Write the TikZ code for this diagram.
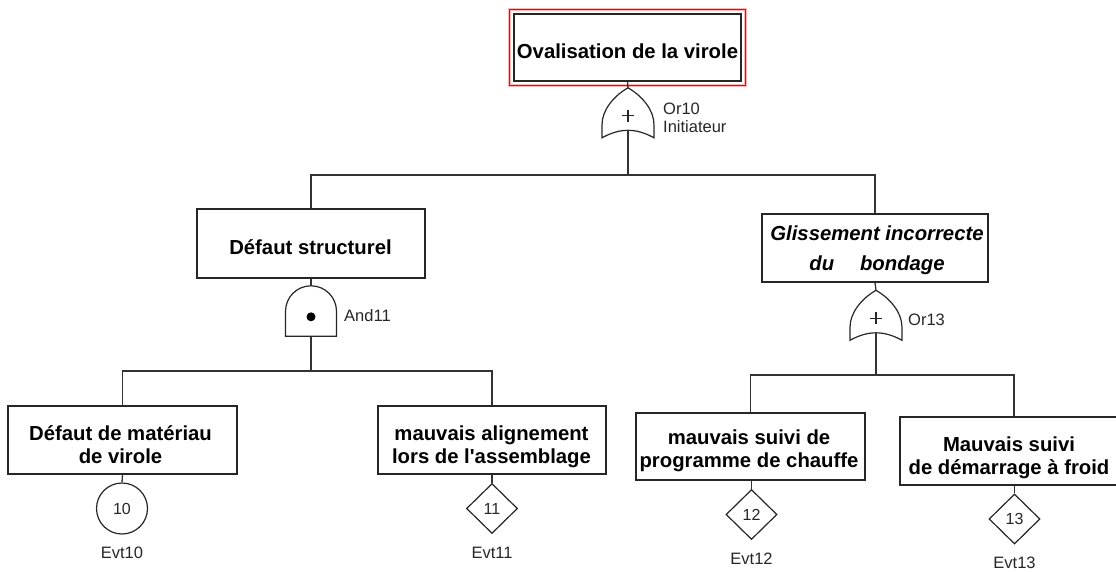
\documentclass[tikz,border=0pt]{standalone}
\usepackage{fontspec}
\setmainfont{Liberation Sans}[Ligatures=TeXOff]
\usetikzlibrary{shapes.geometric,calc}
\begin{document}
\begin{tikzpicture}[x=1pt,y=-1pt,
  conn/.style={draw=black!80, line width=1.3pt},
  evbox/.style={rectangle, draw=black!85, line width=1.3pt, inner sep=0pt},
  evtext/.style={inner sep=0pt, align=center, font=\fontsize{20.3}{23}\selectfont\bfseries},
  gatebox/.style={rectangle, draw=none, minimum width=52pt, minimum height=50pt, inner sep=0pt},
  lbl/.style={inner sep=0pt, align=left, text=black!85, font=\fontsize{16.5}{18.5}\selectfont},
  basic/.style={circle, draw=black!85, line width=1.2pt, minimum size=51pt, inner sep=0pt, text=black!85, font=\fontsize{16}{18}\selectfont},
  undev/.style={diamond, draw=black!85, line width=1.2pt, minimum width=51pt, minimum height=50pt, inner sep=0pt, text=black!85, font=\fontsize{16}{18}\selectfont},
  pics/orgate/.style={code={
    \draw[black!85, line width=1.2pt] (0,0) .. controls (-14,8) and (-26,22) .. (-26,37) -- (-26,50)
      .. controls (-8,40) and (8,40) .. (26,50) -- (26,37)
      .. controls (26,22) and (14,8) .. (0,0) -- cycle;
    \draw[black!85, line width=1.3pt] (-6,28) -- (6,28) (0,22) -- (0,34);
  }},
  pics/andgate/.style={code={
    \draw[black!85, line width=1.2pt] (-25.5,50.5) -- (-25.5,25.5)
      .. controls (-25.5,11.4) and (-14.1,0) .. (0,0)
      .. controls (14.1,0) and (25.5,11.4) .. (25.5,25.5) -- (25.5,50.5) -- cycle;
    \fill[black] (0,31) circle[radius=4.5];
  }}
]
\useasboundingbox (0,0) rectangle (1116,571);

% top event
\node[evbox, line width=1.5pt, minimum width=227pt, minimum height=67pt] (top) at (627.5,47.5) {};
\node[evtext] (topt) at (627.5,51.5) {Ovalisation de la virole};
\draw[red!30, line width=3pt] ([xshift=-3.5pt,yshift=3.5pt]top.north west) rectangle ([xshift=3.5pt,yshift=-3.5pt]top.south east);
\draw[red, line width=1pt] ([xshift=-3.5pt,yshift=3.5pt]top.north west) rectangle ([xshift=3.5pt,yshift=-3.5pt]top.south east);

% intermediate events
\node[evbox, minimum width=228pt, minimum height=69pt] (defstr) at (311,243.5) {};
\node[evtext] (defstrt) at (310.5,247.5) {Défaut structurel};
\node[evbox, minimum width=226pt, minimum height=68pt] (gliss) at (875,248) {};
\node[evtext, font=\fontsize{20.3}{30}\selectfont\bfseries\itshape] (glisst) at (877,250) {Glissement incorrecte\\du\quad{} bondage};

% basic / undeveloped events
\node[evbox, minimum width=229pt, minimum height=68pt] (mat) at (122.5,440) {};
\node[evtext] (matt) at (120.5,445) {Défaut de matériau\\de virole};
\node[evbox, minimum width=228pt, minimum height=68pt] (align) at (492,440) {};
\node[evtext] (alignt) at (491.5,447) {mauvais alignement\\lors de l'assemblage};
\node[evbox, minimum width=229pt, minimum height=67pt] (prog) at (750.5,446.5) {};
\node[evtext] (progt) at (749,451) {mauvais suivi de\\programme de chauffe};
\node[evbox, minimum width=218pt, minimum height=68pt] (dem) at (1009,451) {};
\node[evtext] (demt) at (1009,458) {Mauvais suivi\\de démarrage à froid};

% gates
\node[gatebox] (or10) at (628,113) {};
\pic at (or10.north) {orgate};
\node[lbl, anchor=west] (or10l) at (663,118) {Or10\\Initiateur};
\node[gatebox, minimum height=51pt] (and11) at (311,311.5) {};
\pic at (and11.north) {andgate};
\node[lbl, anchor=west] (and11l) at (344,316) {And11};
\node[gatebox, minimum height=49pt] (or13) at (876,315) {};
\pic at (or13.north) {orgate};
\node[lbl, anchor=west] (or13l) at (908,320) {Or13};

% gate outputs and junctions
\coordinate (or10o) at (628,130);
\coordinate (j10) at (628,175);
\coordinate (and11o) at (311,337);
\coordinate (j11) at (311,371);
\coordinate (or13o) at (876,332);
\coordinate (j13) at (876,375);
\coordinate (k4) at (1014,375);

% leaves
\node[basic] (ev10) at (122,508.5) {10};
\node[undev] (ev11) at (492,508.5) {11};
\node[undev] (ev12) at (751.5,514.5) {12};
\node[undev] (ev13) at (1014.5,519) {13};
\node[lbl] (ev10l) at (122,553) {Evt10};
\node[lbl] (ev11l) at (492,553) {Evt11};
\node[lbl] (ev12l) at (751.5,559) {Evt12};
\node[lbl] (ev13l) at (1014.5,562.5) {Evt13};

% connectors
\draw[conn] (top.south) -- (or10.north);
\draw[conn] (or10o) -- (j10);
\draw[conn] (defstr.north) |- (j10) -| (gliss.north);
\draw[conn] (defstr.south) -- (and11.north);
\draw[conn] (and11o) -- (j11);
\draw[conn] (mat.north) |- (j11) -| (align.north);
\draw[conn] (gliss.south) -- (or13.north);
\draw[conn] (or13o) -- (j13);
\draw[conn] (prog.north) |- (j13) -- (k4) -- (k4 |- dem.north);
\draw[conn] (mat.south) -- (ev10.north);
\draw[conn] (align.south) -- (ev11.north);
\draw[conn] (prog.south -| ev12.north) -- (ev12.north);
\draw[conn] (dem.south -| ev13.north) -- (ev13.north);
\end{tikzpicture}
\end{document}
